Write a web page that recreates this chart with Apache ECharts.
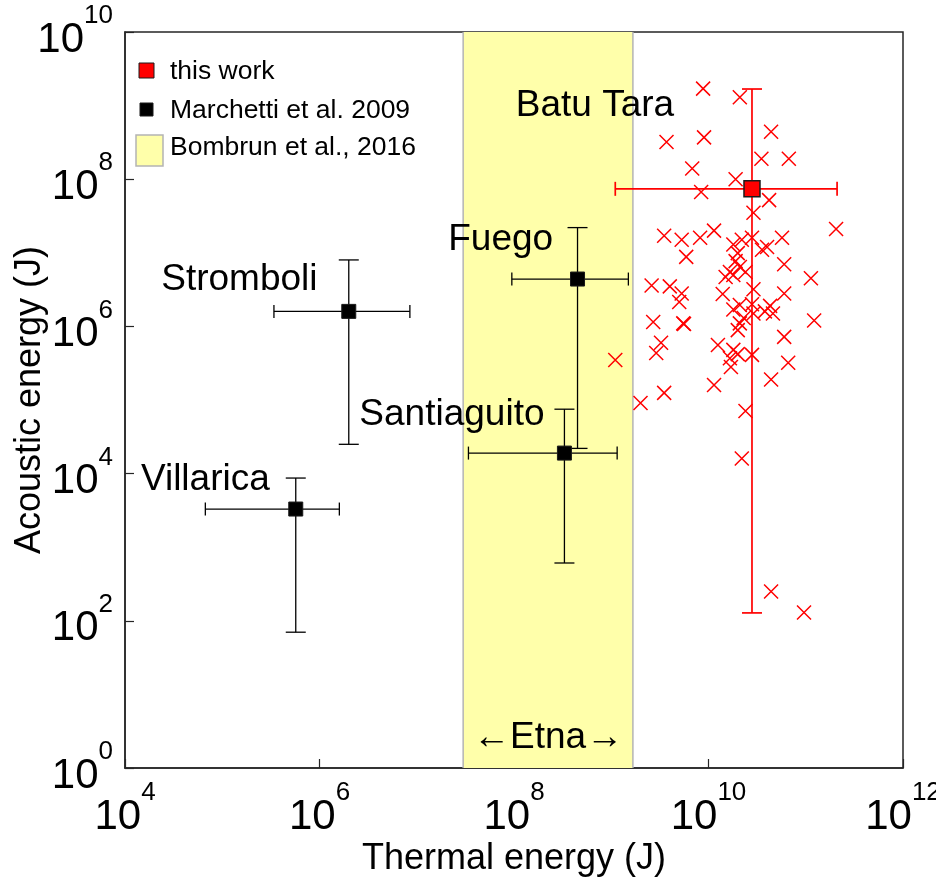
<!DOCTYPE html>
<html>
<head>
<meta charset="utf-8">
<script src="https://cdn.jsdelivr.net/npm/echarts@6/dist/echarts.min.js"></script>
<style>
  html, body { margin: 0; padding: 0; background: #ffffff; }
  #chart { width: 936px; height: 882px; }
</style>
</head>
<body>
<div id="chart"></div>
<script>
// Acoustic vs thermal energy of explosive eruptions (joules, log-log)

// Batu Tara individual explosions: [thermal, acoustic]
const batuTaraEvents = [
  [8.8e9, 1.7e9], [2.1e10, 1.3e9], [3.7e9, 3.2e8], [9.0e9, 3.7e8], [4.4e10, 4.4e8],
  [3.5e10, 1.9e8], [6.7e10, 1.9e8], [6.8e9, 1.4e8], [1.9e10, 1.0e8], [8.4e9, 6.7e7],
  [4.2e10, 5.2e7], [2.9e10, 3.5e7], [2.05e11, 2.1e7], [3.5e9, 1.7e7], [5.3e9, 1.5e7],
  [8.2e9, 1.6e7], [1.14e10, 2.0e7], [5.7e10, 1.6e7], [1.8e10, 1.3e7], [2.2e10, 1.5e7],
  [2.8e10, 1.6e7], [3.55e10, 1.1e7], [4.0e10, 1.2e7], [2.0e10, 9.9e6], [5.9e9, 8.8e6],
  [6.0e10, 7.0e6], [1.9e10, 7.7e6], [2.1e10, 6.4e6], [2.4e10, 5.5e6], [1.66e10, 5.5e6],
  [1.5e10, 4.7e6], [1.8e10, 5.0e6], [1.13e11, 4.5e6], [2.6e9, 3.6e6], [4.0e9, 3.5e6],
  [5.3e9, 2.8e6], [5.0e9, 2.15e6], [1.4e10, 2.75e6], [2.9e10, 3.2e6], [6.0e10, 2.8e6],
  [2.1e10, 1.95e6], [2.8e10, 2.0e6], [4.3e10, 1.9e6], [1.8e10, 1.7e6], [2.9e10, 1.5e6],
  [3.8e10, 1.6e6], [4.6e10, 1.5e6], [2.3e10, 1.3e6], [2.1e10, 1.1e6], [2.0e10, 8.9e5],
  [2.7e9, 1.15e6], [5.5e9, 1.1e6], [5.6e9, 1.08e6], [1.22e11, 1.2e6], [6.0e10, 7.2e5],
  [3.25e9, 6.0e5], [2.9e9, 4.35e5], [1.25e10, 5.6e5], [1.8e10, 4.8e5], [2.0e10, 4.2e5],
  [1.66e10, 3.7e5], [2.8e10, 4.1e5], [1.7e10, 2.8e5], [6.6e10, 3.2e5], [1.1e9, 3.5e5],
  [1.14e10, 1.6e5], [4.4e10, 1.9e5], [3.5e9, 1.25e5], [2.0e9, 9.1e4], [2.4e10, 7.1e4],
  [2.2e10, 1.6e4], [4.4e10, 250], [9.6e10, 130]
];

// Batu Tara mean and spread
const batuTaraMean = [2.8e10, 7.4e7];
const batuTaraThermalRange = [1.1e9, 2.1e11];
const batuTaraAcousticRange = [128, 1.68e9];

// Marchetti et al. 2009 volcanoes
const volcanoNames    = ['Villarica', 'Stromboli', 'Fuego', 'Santiaguito'];
const volcanoThermal  = [5.7e5, 2.0e6, 4.5e8, 3.3e8];
const volcanoAcoustic = [3.3e3, 1.6e6, 4.4e6, 1.9e4];
const volcanoThermalLow   = [6.7e4, 3.4e5, 9.5e7, 3.4e7];
const volcanoThermalHigh  = [1.6e6, 8.5e6, 1.5e9, 1.15e9];
const volcanoAcousticLow  = [70, 2.5e4, 2.2e4, 610];
const volcanoAcousticHigh = [8.7e3, 8.0e6, 2.2e7, 7.5e4];

// Bombrun et al., 2016: Etna thermal energy range
const etnaThermalRange = [3.0e7, 1.67e9];

// Text annotations placed in data coordinates
const annotationText = ['Batu Tara', 'Fuego', 'Stromboli', 'Santiaguito', 'Villarica', '\u2190Etna\u2192'];
const annotationAt = [[6.8e8, 9.9e8], [7.3e7, 1.5e7], [1.5e5, 4.3e6], [2.3e7, 6.3e4], [6.7e4, 8.2e3], [2.24e8, 2.56]];

// Axis limits
const xLimits = [1e4, 1e12];
const yLimits = [1e0, 1e10];

const FONT = '"Liberation Sans", Arial, Helvetica, sans-serif';
const AXIS_COLOR = '#262626';

function powerLabel(value) {
  const e = Math.round(Math.log10(value));
  return '{b|10}{s|' + e + '}';
}
const tickRich = {
  b: { fontSize: 42, fontFamily: FONT, color: '#000', verticalAlign: 'bottom', lineHeight: 58 },
  s: { fontSize: 26, fontFamily: FONT, color: '#000', verticalAlign: 'top', lineHeight: 58 }
};

function errorBars(color, lineWidth, capV, capH) {
  return function (params, api) {
    const x = api.value(0), y = api.value(1);
    const xl = api.coord([api.value(2), y]);
    const xh = api.coord([api.value(3), y]);
    const yl = api.coord([x, api.value(4)]);
    const yh = api.coord([x, api.value(5)]);
    const style = { stroke: color, lineWidth: lineWidth };
    const seg = (x1, y1, x2, y2) => ({ type: 'line', shape: { x1, y1, x2, y2 }, style });
    return {
      type: 'group',
      children: [
        seg(xl[0], xl[1], xh[0], xh[1]),
        seg(yl[0], yl[1], yh[0], yh[1]),
        seg(xl[0], xl[1] - capH / 2, xl[0], xl[1] + capH / 2),
        seg(xh[0], xh[1] - capH / 2, xh[0], xh[1] + capH / 2),
        seg(yl[0] - capV / 2, yl[1], yl[0] + capV / 2, yl[1]),
        seg(yh[0] - capV / 2, yh[1], yh[0] + capV / 2, yh[1])
      ]
    };
  };
}

const volcanoRows = volcanoNames.map((n, i) => [
  volcanoThermal[i], volcanoAcoustic[i],
  volcanoThermalLow[i], volcanoThermalHigh[i],
  volcanoAcousticLow[i], volcanoAcousticHigh[i]
]);
const batuTaraRow = [[
  batuTaraMean[0], batuTaraMean[1],
  batuTaraThermalRange[0], batuTaraThermalRange[1],
  batuTaraAcousticRange[0], batuTaraAcousticRange[1]
]];

const chart = echarts.init(document.getElementById('chart'), null, { renderer: 'canvas' });

chart.setOption({
  animation: false,
  backgroundColor: '#ffffff',
  grid: {
    left: 125, right: 33, top: 32, bottom: 114,
    outerBoundsMode: 'none', containLabel: false,
    show: true, borderColor: AXIS_COLOR, borderWidth: 1.5, backgroundColor: 'transparent'
  },
  xAxis: {
    type: 'log', logBase: 100, min: xLimits[0], max: xLimits[1],
    name: 'Thermal energy (J)', nameLocation: 'middle', nameGap: 73, nameMoveOverlap: false,
    nameTextStyle: { fontSize: 36, fontFamily: FONT, color: '#000' },
    axisLine: { show: true, lineStyle: { color: AXIS_COLOR, width: 1.5 } },
    axisTick: { show: true, inside: true, length: 9, lineStyle: { color: AXIS_COLOR, width: 1.2 } },
    minorTick: { show: false },
    splitLine: { show: false },
    axisLabel: { margin: 12, formatter: powerLabel, rich: tickRich, showMinLabel: true, showMaxLabel: true, hideOverlap: false }
  },
  yAxis: {
    type: 'log', logBase: 100, min: yLimits[0], max: yLimits[1],
    name: 'Acoustic energy (J)', nameLocation: 'middle', nameGap: 77, nameRotate: 90, nameMoveOverlap: false,
    nameTextStyle: { fontSize: 36, fontFamily: FONT, color: '#000' },
    axisLine: { show: true, lineStyle: { color: AXIS_COLOR, width: 1.5 } },
    axisTick: { show: true, inside: true, length: 9, lineStyle: { color: AXIS_COLOR, width: 1.2 } },
    splitLine: { show: false },
    axisLabel: { margin: 12, formatter: powerLabel, rich: tickRich, showMinLabel: true, showMaxLabel: true, hideOverlap: false }
  },
  series: [
    {
      // Etna thermal-energy band
      type: 'custom', z: 1, silent: true,
      data: [etnaThermalRange],
      renderItem: function (params, api) {
        const cs = params.coordSys;
        const a = api.coord([api.value(0), yLimits[1]]);
        const b = api.coord([api.value(1), yLimits[0]]);
        return {
          type: 'group',
          children: [
            { type: 'rect', shape: { x: a[0], y: cs.y, width: b[0] - a[0], height: cs.height },
              style: { fill: '#ffffaa' } },
            { type: 'line', shape: { x1: a[0], y1: cs.y, x2: a[0], y2: cs.y + cs.height },
              style: { stroke: '#b4b4b4', lineWidth: 1.5 } },
            { type: 'line', shape: { x1: b[0], y1: cs.y, x2: b[0], y2: cs.y + cs.height },
              style: { stroke: '#b4b4b4', lineWidth: 1.5 } }
          ]
        };
      }
    },
    {
      // Batu Tara explosions
      type: 'scatter', z: 3,
      data: batuTaraEvents,
      symbol: 'path://M0,0L10,10M10,0L0,10',
      symbolSize: 14,
      itemStyle: { color: 'none', borderColor: '#ff0000', borderWidth: 1.5, opacity: 1 }
    },
    {
      type: 'custom', z: 4, silent: true,
      data: volcanoRows,
      renderItem: errorBars('#000000', 1.3, 20, 13)
    },
    {
      type: 'scatter', z: 5,
      data: volcanoRows.map(r => [r[0], r[1]]),
      symbol: 'rect', symbolSize: 14,
      itemStyle: { color: '#000000', borderColor: '#1a1a1a', borderWidth: 1, opacity: 1 }
    },
    {
      type: 'custom', z: 6, silent: true,
      data: batuTaraRow,
      renderItem: errorBars('#ff0000', 1.7, 20, 14)
    },
    {
      type: 'scatter', z: 7,
      data: [batuTaraMean],
      symbol: 'rect', symbolSize: 16,
      itemStyle: { color: '#ff0000', borderColor: '#1a1a1a', borderWidth: 1.5, opacity: 1 }
    },
    {
      // Volcano and range annotations
      type: 'custom', z: 8, silent: true,
      data: annotationAt.map((p, i) => ({ value: p, name: annotationText[i] })),
      renderItem: function (params, api) {
        const p = api.coord([api.value(0), api.value(1)]);
        return {
          type: 'text', x: p[0], y: p[1],
          style: {
            text: annotationText[params.dataIndex], fontSize: 37, fontFamily: FONT,
            fill: '#000000', align: 'center', verticalAlign: 'middle'
          }
        };
      }
    }
  ],
  graphic: [
    { type: 'rect', shape: { x: 139, y: 63, width: 15, height: 15 },
      style: { fill: '#ff0000', stroke: '#1a1a1a', lineWidth: 1 }, z: 10 },
    { type: 'rect', shape: { x: 140, y: 103, width: 13, height: 13 },
      style: { fill: '#000000', stroke: '#1a1a1a', lineWidth: 1 }, z: 10 },
    { type: 'rect', shape: { x: 136, y: 135, width: 27, height: 31 },
      style: { fill: '#ffffaa', stroke: '#b4b4b4', lineWidth: 1.5 }, z: 10 },
    { type: 'text', x: 170, y: 72, z: 10,
      style: { text: 'this work', fontSize: 26.5, fontFamily: FONT, fill: '#000', verticalAlign: 'middle' } },
    { type: 'text', x: 170, y: 111, z: 10,
      style: { text: 'Marchetti et al. 2009', fontSize: 26.5, fontFamily: FONT, fill: '#000', verticalAlign: 'middle' } },
    { type: 'text', x: 170, y: 148, z: 10,
      style: { text: 'Bombrun et al., 2016', fontSize: 26.5, fontFamily: FONT, fill: '#000', verticalAlign: 'middle' } }
  ]
});
</script>
</body>
</html>
